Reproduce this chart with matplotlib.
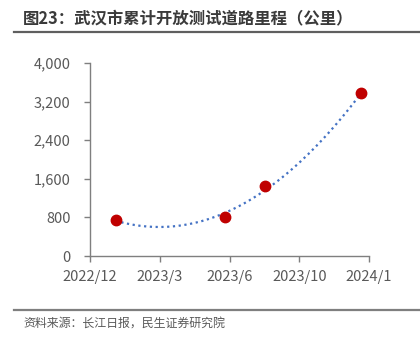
import numpy as np
import matplotlib
matplotlib.use("Agg")
import matplotlib.pyplot as plt
import matplotlib.dates as mdates
import matplotlib.ticker as mticker
from datetime import datetime

plt.rcParams["font.family"] = ["Noto Sans CJK SC", "DejaVu Sans"]

# data (km of open test roads, Wuhan)
dates = ["2023-01-11", "2023-06-17", "2023-08-13", "2023-12-29"]
mileage = [745, 813, 1455, 3370]

axis_start = datetime(2022, 12, 5)
tick_step_days = 100
n_ticks = 5

TITLE = "图23：武汉市累计开放测试道路里程（公里）"
SOURCE = "资料来源：长江日报，民生证券研究院"
GREY = "#595959"

x = mdates.date2num([datetime.fromisoformat(d) for d in dates])
y = np.array(mileage, dtype=float)

fig = plt.figure(figsize=(4.2, 3.41), dpi=100)
ax = fig.add_axes([0.214, 0.249, 0.665, 0.566])

# quadratic trend line, as in the source
coef = np.polyfit(x, y, 2)
xt = np.linspace(x[0], x[-1], 200)
ax.plot(xt, np.polyval(coef, xt), ls=(0, (1, 1.6)), lw=1.6, color="#4472C4",
        zorder=2)
ax.plot(x, y, "o", ms=7.5, color="#C00000", zorder=3)

x0 = mdates.date2num(axis_start)
ticks = [x0 + i * tick_step_days for i in range(n_ticks)]
ax.set_xlim(ticks[0], ticks[-1])
ax.set_xticks(ticks)
ax.xaxis.set_major_formatter(mticker.FuncFormatter(
    lambda v, p: f"{mdates.num2date(v).year}/{mdates.num2date(v).month}"))

ax.set_ylim(0, 4000)
ax.set_yticks(np.arange(0, 4001, 800))
ax.yaxis.set_major_formatter(mticker.FuncFormatter(lambda v, p: f"{v:,.0f}"))

for s in ["top", "right"]:
    ax.spines[s].set_visible(False)
for s in ["left", "bottom"]:
    ax.spines[s].set_color("#7f7f7f")
    ax.spines[s].set_linewidth(1.0)
ax.tick_params(direction="out", length=4, width=1.0, color="#7f7f7f",
               labelcolor=GREY, labelsize=10.5)
ax.tick_params(axis="y", pad=10)
ax.tick_params(axis="x", pad=6)

fig.text(0.055, 0.945, TITLE, fontsize=11.8, fontweight="bold",
         color="#3a3a3a", va="center", ha="left")
fig.add_artist(plt.Line2D([0.033, 1.0], [0.907, 0.907], color="#5f5f5f",
                          lw=1.6, transform=fig.transFigure))
fig.add_artist(plt.Line2D([0.033, 1.0], [0.091, 0.091], color="#7f7f7f",
                          lw=1.6, transform=fig.transFigure))
fig.text(0.055, 0.052, SOURCE, fontsize=8.6, color=GREY, va="center",
         ha="left")

fig.savefig("out.png", dpi=100)
